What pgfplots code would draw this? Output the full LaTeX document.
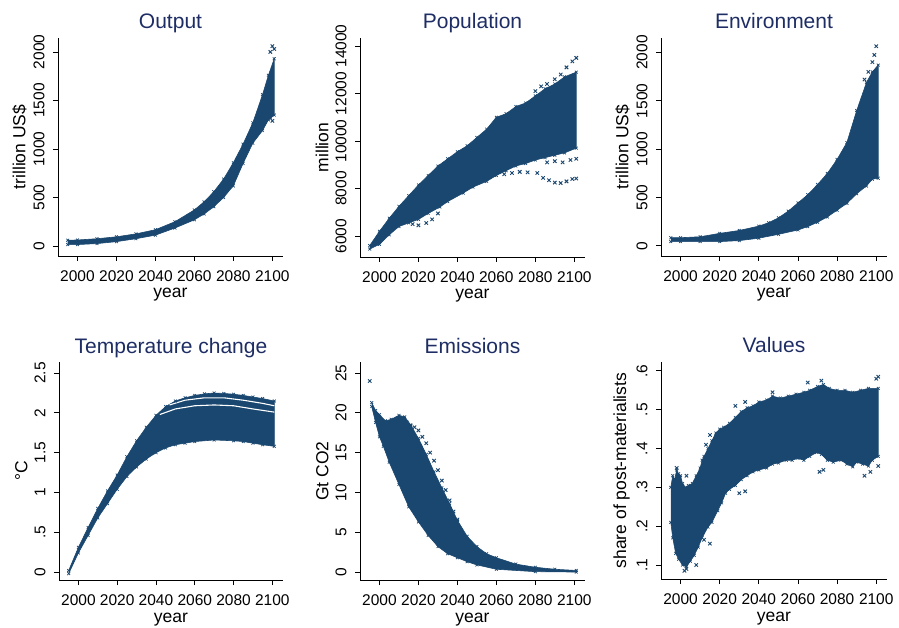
\documentclass[border=0pt]{standalone}
\usepackage{fontspec}
\setmainfont{Liberation Sans}
\usepackage{pgfplots}
\pgfplotsset{compat=1.18}
\definecolor{mc}{RGB}{26,71,111}
\definecolor{titlecol}{RGB}{30,45,100}
\pgfplotsset{stata/.style={
  scale only axis, anchor=south west,
  axis lines=left, axis line style={-, line width=0.9pt, black},
  tick align=outside, major tick length=5pt,
  every tick/.style={black, line width=0.9pt},
  scaled y ticks=false,
  xmin=1990, xmax=2105.5,
  xtick={2000,2020,2040,2060,2080,2100},
  xticklabels={2000,2020,2040,2060,2080,2100},
  ticklabel style={font=\fontsize{15.5}{16}\selectfont},
  yticklabel style={rotate=90, anchor=south},
  xticklabel shift=6pt, yticklabel shift=5pt,
  label style={font=\fontsize{17.5}{18}\selectfont},
  xlabel={year},
  xlabel style={at={(0.5,0)}, anchor=base, yshift=-42pt},
  title style={font=\fontsize{21}{22}\selectfont, color=titlecol, at={(0.5,1)}, anchor=base, yshift=3pt},
  clip=false,
},
band/.style={fill=mc, draw=mc, line width=0.6pt, mark=x, mark size=2pt, mark options={solid, line width=0.7pt}},
pts/.style={only marks, mark=x, mark size=2.4pt, mc, mark options={line width=0.9pt}},
}
\begin{document}
\begin{tikzpicture}
\useasboundingbox (0,0) rectangle (899pt,627pt);
% Output
\begin{axis}[stata, at={(58pt,371pt)}, width=225pt, height=218pt,
  ymin=-103, ymax=2144, ytick={0,500,1000,1500,2000}, yticklabels={0,500,1000,1500,2000},
  title={Output}, ylabel={trillion US\$}]
\addplot[band] coordinates {(1995,60)(2000,62)(2010,75)(2020,95)(2030,125)(2040,168)(2050,250)(2060,372)(2065,455)(2070,560)(2075,690)(2080,858)(2085,1050)(2090,1270)(2095,1560)(2098,1760)(2101,1930)
(2101,1350)(2098,1300)(2095,1190)(2090,1060)(2085,850)(2080,620)(2075,500)(2070,405)(2065,330)(2060,270)(2050,185)(2040,112)(2030,75)(2020,45)(2010,25)(2000,15)(1995,15)};
\addplot[pts] coordinates {(2099,2000)(2100,2060)(2101,2030)(2099,1320)(2100,1290)};
\end{axis}
% Population
\begin{axis}[stata, at={(360pt,370pt)}, width=225pt, height=219pt,
  ymin=5116, ymax=14337, ytick={6000,8000,10000,12000,14000}, yticklabels={6000,8000,10000,12000,14000},
  title={Population}, ylabel={million}]
\addplot[band] coordinates {(1995,5600)(2000,6200)(2005,6750)(2010,7250)(2015,7700)(2020,8150)(2025,8550)(2030,8950)(2035,9250)(2040,9550)(2045,9800)(2050,10150)(2055,10500)(2060,11000)(2065,11150)(2070,11450)(2075,11600)(2080,11900)(2085,12200)(2090,12400)(2095,12700)(2101,12900)
(2101,9700)(2095,9500)(2090,9400)(2085,9300)(2080,9200)(2075,9050)(2070,8950)(2065,8750)(2060,8550)(2055,8300)(2048,8060)(2043,7810)(2035,7450)(2031,7220)(2025,6950)(2020,6700)(2015,6550)(2010,6400)(2005,6050)(2000,5650)(1995,5450)};
\addplot[pts] coordinates {(2080,12100)(2083,12300)(2086,12400)(2090,12600)(2093,12800)(2096,13100)(2099,13350)(2101,13500)};
\addplot[pts] coordinates {(2064,8600)(2068,8650)(2072,8700)(2076,8680)(2081,8650)(2084,8450)(2087,8350)(2090,8250)(2093,8230)(2096,8300)(2099,8400)(2101,8420)};
\addplot[pts] coordinates {(2086,9100)(2090,9150)(2094,9100)(2098,9200)(2101,9250)};
\addplot[pts] coordinates {(2017,6500)(2020,6450)(2024,6550)(2027,6700)(2030,6950)};
\end{axis}
% Environment
\begin{axis}[stata, at={(661pt,371pt)}, width=226pt, height=218pt,
  ymin=-104, ymax=2150, ytick={0,500,1000,1500,2000}, yticklabels={0,500,1000,1500,2000},
  title={Environment}, ylabel={trillion US\$}]
\addplot[band] coordinates {(1995,85)(2000,85)(2010,95)(2020,130)(2030,160)(2040,205)(2045,240)(2050,290)(2055,360)(2060,445)(2065,530)(2070,635)(2075,750)(2080,895)(2085,1070)(2090,1400)(2095,1690)(2098,1800)(2101,1870)
(2101,700)(2098,690)(2095,620)(2090,540)(2085,440)(2080,370)(2075,300)(2070,245)(2065,200)(2060,165)(2050,120)(2040,80)(2030,55)(2020,45)(2010,45)(2000,45)(1995,45)};
\addplot[pts] coordinates {(2100,2065)(2099,1975)(2098,1900)(2096,1800)(2094,1720)};
\end{axis}
% Temperature
\begin{axis}[stata, at={(59pt,47pt)}, width=224pt, height=218pt,
  ymin=-0.1, ymax=2.64, ytick={0,0.5,1,1.5,2,2.5}, yticklabels={0,.5,1,1.5,2,2.5},
  title={Temperature change}, ylabel={°C}]
\addplot[band] coordinates {(1995,0.02)(2000,0.31)(2005,0.56)(2010,0.80)(2015,1.02)(2020,1.22)(2025,1.45)(2030,1.65)(2035,1.82)(2040,1.97)(2045,2.08)(2050,2.15)(2055,2.19)(2060,2.22)(2065,2.24)(2070,2.25)(2075,2.245)(2080,2.235)(2085,2.22)(2090,2.20)(2095,2.18)(2101,2.15)
(2101,1.58)(2095,1.60)(2090,1.62)(2085,1.64)(2080,1.65)(2070,1.66)(2060,1.64)(2055,1.62)(2050,1.60)(2045,1.56)(2040,1.50)(2035,1.42)(2030,1.32)(2025,1.20)(2020,1.04)(2015,0.86)(2010,0.68)(2005,0.46)(2000,0.24)(1995,-0.02)};
\addplot[white, line width=1.1pt] coordinates {(2047,2.10)(2055,2.16)(2065,2.19)(2075,2.19)(2085,2.16)(2095,2.12)(2101,2.09)};
\addplot[white, line width=1.1pt] coordinates {(2042,1.98)(2050,2.05)(2060,2.09)(2070,2.10)(2080,2.09)(2090,2.05)(2101,2.01)};
\end{axis}
% Emissions
\begin{axis}[stata, at={(360pt,47pt)}, width=225pt, height=218pt,
  ymin=-1, ymax=26.4, ytick={0,5,10,15,20,25}, yticklabels={0,5,10,15,20,25},
  title={Emissions}, ylabel={Gt CO2}]
\addplot[band] coordinates {(1996,21.3)(1998,20.3)(2000,19.8)(2003,19.0)(2006,19.2)(2010,19.7)(2013,19.5)(2016,18.5)(2020,16.8)(2024,14.8)(2028,12.6)(2032,10.6)(2036,8.6)(2040,6.5)(2045,4.5)(2050,3.2)(2055,2.3)(2060,1.8)(2070,1.0)(2080,0.6)(2090,0.35)(2101,0.2)
(2101,0)(2080,0.05)(2060,0.35)(2050,0.9)(2045,1.3)(2040,1.8)(2035,2.3)(2030,3.2)(2025,4.6)(2020,6.3)(2015,8.2)(2010,11.0)(2005,13.8)(2002,15.8)(2000,17.0)(1998,18.8)(1996,20.8)};
\addplot[pts] coordinates {(1995,24)(2012,19.3)(2014,18.8)(2016,18.4)(2018,18.2)(2020,17.8)(2022,17.0)(2024,16.2)(2026,15.0)(2028,14.0)(2030,12.8)(2032,11.5)(2034,10.3)(2036,9.0)(2038,7.6)(2040,6.6)};
\end{axis}
% Values
\begin{axis}[stata, at={(661pt,48pt)}, width=226pt, height=217pt,
  ymin=0.064, ymax=0.623, ytick={0.1,0.2,0.3,0.4,0.5,0.6}, yticklabels={.1,.2,.3,.4,.5,.6},
  title={Values}, ylabel={share of post-materialists}]
\addplot[band] coordinates {(1995,0.30)(1996,0.33)(1997,0.32)(1998,0.345)(1999,0.335)(2000,0.33)(2001,0.31)(2002.5,0.30)(2004,0.305)(2006,0.31)(2008,0.33)(2010,0.35)(2011,0.37)(2012,0.38)(2014,0.40)(2016,0.42)(2018,0.44)(2020,0.45)(2022,0.455)(2025,0.465)(2028,0.48)(2031,0.495)(2034,0.505)(2037,0.51)(2040,0.52)(2044,0.525)(2047,0.535)(2051,0.53)(2055,0.535)(2059,0.54)(2063,0.545)(2066,0.55)(2070,0.56)(2073,0.565)(2076,0.555)(2080,0.55)(2084,0.55)(2088,0.545)(2092,0.55)(2096,0.555)(2101,0.555)
(2101,0.38)(2098,0.37)(2096,0.355)(2093,0.36)(2090,0.365)(2088,0.353)(2085,0.36)(2082,0.37)(2078,0.365)(2075,0.37)(2072,0.385)(2069.6,0.39)(2066,0.38)(2063,0.37)(2060,0.375)(2057,0.37)(2054,0.37)(2050,0.363)(2047,0.36)(2044,0.35)(2040,0.345)(2037,0.34)(2034,0.33)(2031,0.32)(2028,0.305)(2025,0.295)(2023,0.285)(2021,0.26)(2019,0.24)(2016,0.21)(2014,0.198)(2011,0.17)(2009,0.146)(2007,0.125)(2005,0.11)(2003,0.095)(2001,0.1)(1999,0.115)(1997.5,0.13)(1996,0.17)(1995,0.21)};
\addplot[pts] coordinates {(2002,0.085)(2003,0.09)(2008,0.10)(2012,0.165)(2015,0.155)(2030,0.285)(2033,0.29)(2071,0.34)(2073,0.345)(2094,0.33)(2097,0.34)(2101,0.355)(2101,0.585)(2100,0.58)(2065,0.57)(2072,0.575)(2033,0.52)(2028,0.51)(2047,0.545)(2013,0.41)(2015,0.435)(1998,0.35)(2003,0.33)};
\end{axis}
\end{tikzpicture}
\end{document}
